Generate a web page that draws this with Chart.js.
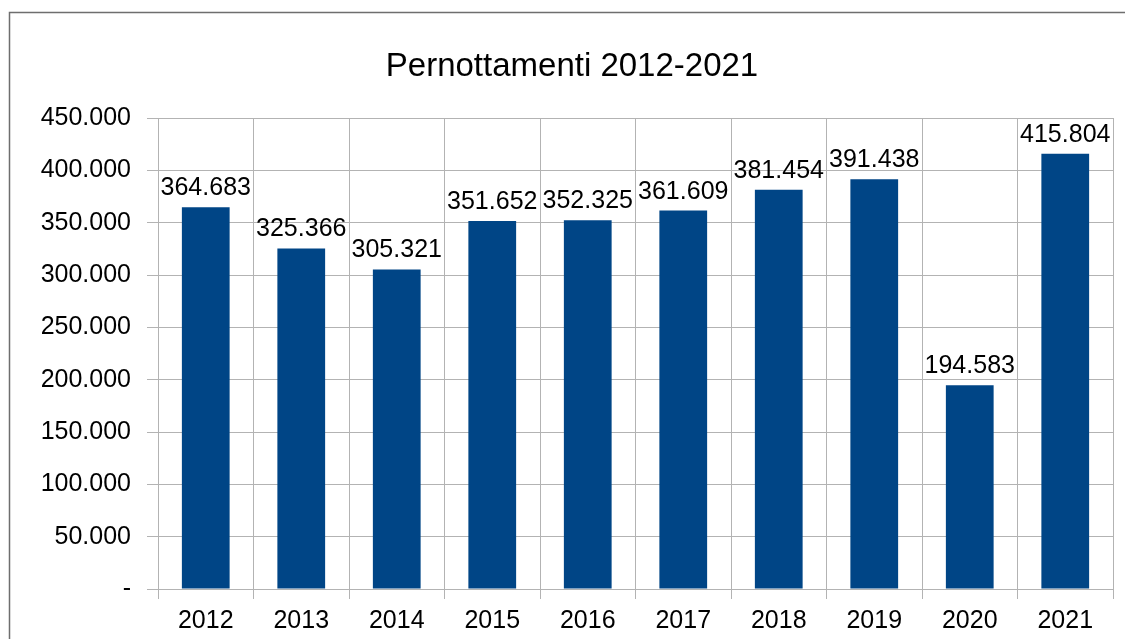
<!DOCTYPE html>
<html>
<head>
<meta charset="utf-8">
<script src="https://cdn.jsdelivr.net/npm/chart.js@4"></script>
<style>
  body { margin: 0; background: #fff; }
  #wrap { width: 1125px; height: 639px; }
</style>
</head>
<body>
<div id="wrap"><canvas id="chart"></canvas></div>
<script>
const years = ['2012', '2013', '2014', '2015', '2016', '2017', '2018', '2019', '2020', '2021'];
const pernottamenti = [364683, 325366, 305321, 351652, 352325, 361609, 381454, 391438, 194583, 415804];
const yMax = 450000;
const yStep = 50000;
const titolo = 'Pernottamenti 2012-2021';

const fmt = (v) => v === 0 ? '-' : String(Math.round(v)).replace(/\B(?=(\d{3})+(?!\d))/g, '.');

// cornice grigia e titolo
const frame = {
  id: 'frame',
  beforeDraw(chart) {
    const ctx = chart.ctx;
    ctx.save();
    ctx.fillStyle = '#fff';
    ctx.fillRect(0, 0, chart.width, chart.height);
    ctx.strokeStyle = '#6e6e6e';
    ctx.lineWidth = 1.5;
    ctx.strokeRect(9.5, 12.5, 1300, 800);
    ctx.font = '33px "Liberation Sans", Arial, sans-serif';
    ctx.fillStyle = '#000';
    ctx.textAlign = 'center';
    ctx.textBaseline = 'alphabetic';
    ctx.fillText(titolo, 572, 76);
    ctx.restore();
  }
};

// etichette dei valori sopra le barre
const valueLabels = {
  id: 'valueLabels',
  afterDatasetsDraw(chart) {
    const ctx = chart.ctx;
    const meta = chart.getDatasetMeta(0);
    ctx.save();
    ctx.font = '25px "Liberation Sans", Arial, sans-serif';
    ctx.fillStyle = '#000';
    ctx.textAlign = 'center';
    ctx.textBaseline = 'alphabetic';
    meta.data.forEach((bar, i) => {
      ctx.fillText(fmt(pernottamenti[i]), bar.x, bar.y - 12);
    });
    ctx.restore();
  }
};

const data = {
  labels: years,
  datasets: [{
    data: pernottamenti,
    backgroundColor: '#004586',
    categoryPercentage: 1,
    barPercentage: 0.5
  }]
};

const config = {
  type: 'bar',
  data,
  options: {
    responsive: true,
    maintainAspectRatio: false,
    animation: false,
    layout: { padding: { left: 0, right: 12, top: 118, bottom: 0 } },
    plugins: {
      legend: { display: false },
      tooltip: { enabled: false },
      title: { display: false }
    },
    scales: {
      x: {
        grid: { color: '#b3b3b3', tickLength: 10, offset: true },
        border: { color: '#b3b3b3' },
        ticks: {
          color: '#000',
          padding: 7,
          font: { family: '"Liberation Sans", Arial, sans-serif', size: 25 }
        },
        afterFit(scale) { scale.height = 50; }
      },
      y: {
        min: 0,
        max: yMax,
        grid: { color: '#b3b3b3', tickLength: 11 },
        border: { color: '#b3b3b3' },
        ticks: {
          stepSize: yStep,
          color: '#000',
          padding: 16,
          font: { family: '"Liberation Sans", Arial, sans-serif', size: 25 },
          callback: (v) => fmt(v)
        },
        afterFit(scale) { scale.width = 158; }
      }
    }
  },
  plugins: [frame, valueLabels]
};

new Chart(document.getElementById('chart'), config);
</script>
</body>
</html>
